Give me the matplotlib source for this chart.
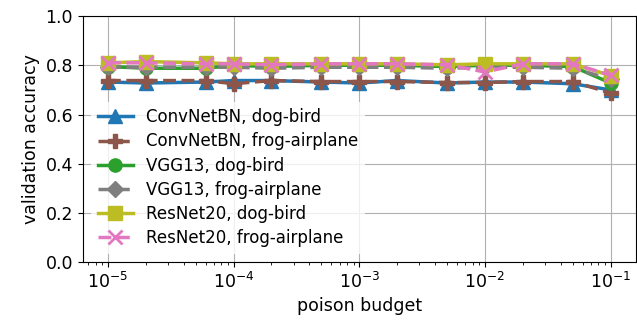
import matplotlib
matplotlib.use("Agg")
import matplotlib.pyplot as plt

# poison budgets (x axis)
budgets = [1e-5, 2e-5, 6e-5, 1e-4, 2e-4, 5e-4, 1e-3, 2e-3, 5e-3, 1e-2, 2e-2, 5e-2, 1e-1]

# validation accuracy per model / class pair
convnet_dog_bird = [0.732, 0.728, 0.732, 0.738, 0.738, 0.732, 0.728, 0.738, 0.728, 0.732, 0.732, 0.725, 0.70]
convnet_frog_airplane = [0.738, 0.738, 0.738, 0.725, 0.738, 0.734, 0.734, 0.734, 0.73, 0.73, 0.734, 0.734, 0.687]
vgg_dog_bird = [0.795, 0.788, 0.788, 0.80, 0.795, 0.80, 0.80, 0.80, 0.795, 0.80, 0.80, 0.795, 0.728]
vgg_frog_airplane = [0.792, 0.792, 0.792, 0.792, 0.788, 0.792, 0.792, 0.792, 0.788, 0.792, 0.792, 0.788, 0.744]
resnet_dog_bird = [0.81, 0.815, 0.81, 0.806, 0.806, 0.806, 0.806, 0.806, 0.802, 0.806, 0.806, 0.806, 0.758]
resnet_frog_airplane = [0.81, 0.81, 0.806, 0.806, 0.802, 0.806, 0.806, 0.806, 0.802, 0.773, 0.806, 0.806, 0.76]

fig, ax = plt.subplots(figsize=(6.37, 3.22), dpi=100)

lw = 2.5
ms = 9.5
ax.plot(budgets, convnet_dog_bird, '-^', color='tab:blue', lw=lw, ms=ms, label='ConvNetBN, dog-bird')
ax.plot(budgets, convnet_frog_airplane, '--P', color='tab:brown', lw=lw, ms=ms, label='ConvNetBN, frog-airplane')
ax.plot(budgets, vgg_dog_bird, '-o', color='tab:green', lw=lw, ms=ms, label='VGG13, dog-bird')
ax.plot(budgets, vgg_frog_airplane, '--D', color='tab:gray', lw=lw, ms=ms - 1, label='VGG13, frog-airplane')
ax.plot(budgets, resnet_dog_bird, '-s', color='tab:olive', lw=lw, ms=ms, label='ResNet20, dog-bird')
ax.plot(budgets, resnet_frog_airplane, '--x', color='tab:pink', lw=lw, ms=ms, mew=2, label='ResNet20, frog-airplane')

ax.set_xscale('log')
ax.set_ylim(0, 1)
ax.set_xlabel('poison budget', fontsize=12.5)
ax.set_ylabel('validation accuracy', fontsize=12.5)
ax.tick_params(labelsize=12.5)
ax.grid(True)
leg = ax.legend(loc='lower left', fontsize=12, framealpha=0.8, labelspacing=0.37,
                handlelength=2.1)
leg.get_frame().set_edgecolor('none')

plt.subplots_adjust(left=0.13, right=0.998, top=0.95, bottom=0.186)
plt.savefig('out.png')
